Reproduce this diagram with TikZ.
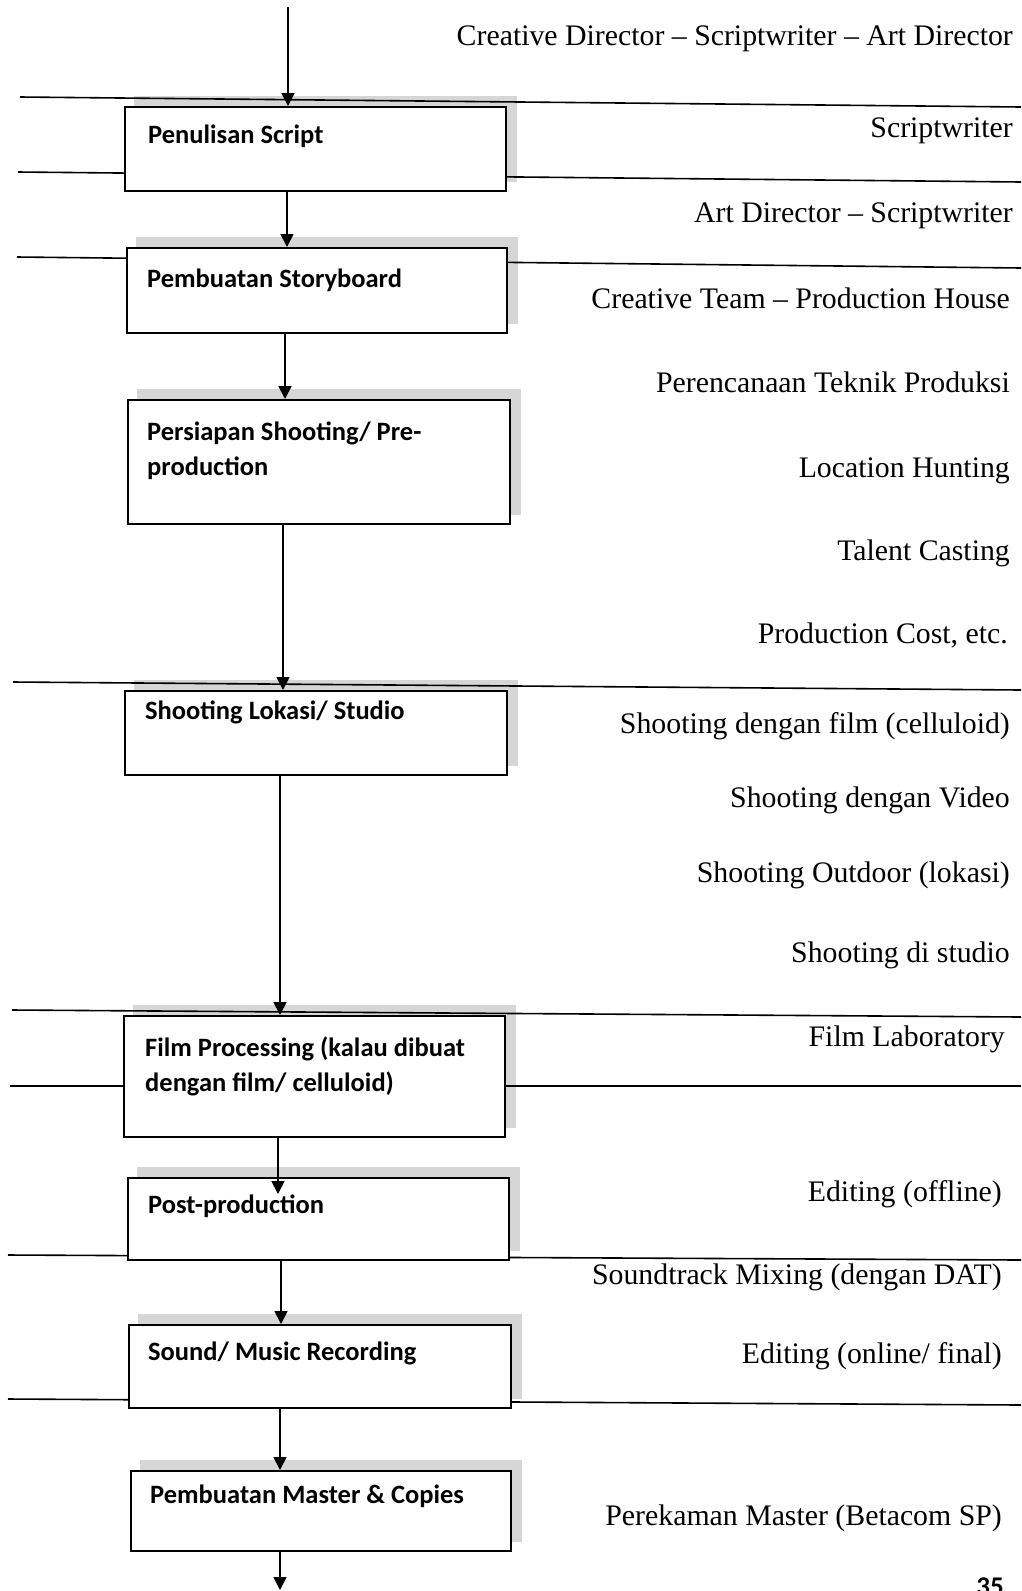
\documentclass[tikz,border=0pt]{standalone}
\usepackage{fontspec}
\setmainfont{Liberation Serif}
\newfontfamily\boxfont{Carlito}
\usetikzlibrary{arrows.meta,calc}
\pgfdeclarelayer{bg}
\pgfsetlayers{bg,main}
\begin{document}
\begin{tikzpicture}[x=1pt,y=-1pt,
  sepline/.style={line width=1.6pt},
  flow/.style={line width=1.8pt,-{Triangle[width=13pt,length=13pt]}},
  stage/.style={draw,line width=2.2pt,fill=white,rectangle,anchor=north west,inner sep=0pt},
  shade/.style={fill=black!16},
  stagetext/.style={anchor=base west,inner sep=0pt,font=\boxfont\bfseries\fontsize{26.5}{32}\selectfont},
  role/.style={anchor=base east,inner sep=0pt,font=\fontsize{29.8}{36}\selectfont}]
\useasboundingbox (0,0) rectangle (1021,1591);
% boxes
\node[stage,minimum width=381pt,minimum height=84pt] (b1) at (124,106) {};
\node[stage,minimum width=380pt,minimum height=85pt] (b2) at (126,247) {};
\node[stage,minimum width=382pt,minimum height=124pt] (b3) at (127,399) {};
\node[stage,minimum width=382pt,minimum height=84pt] (b4) at (124,690) {};
\node[stage,minimum width=381pt,minimum height=121pt] (b5) at (123,1015) {};
\node[stage,minimum width=381pt,minimum height=82pt] (b6) at (127,1177) {};
\node[stage,minimum width=382pt,minimum height=83pt] (b7) at (128,1324) {};
\node[stage,minimum width=380pt,minimum height=80pt] (b8) at (130,1470) {};
% shadows and separator lines behind
\begin{pgfonlayer}{bg}
\foreach \b in {b1,b2,b3,b4,b5,b6,b7,b8}{
  \fill[shade] ($(\b.south west)+(10,-10)$) rectangle ($(\b.north east)+(10,-10)$);
}
\draw[sepline] (20,97) -- (1021,107);
\draw[sepline] (18,172) -- (1021,182);
\draw[sepline] (17,257) -- (1021,268);
\draw[sepline] (13,682) -- (1021,690);
\draw[sepline] (12,1010) -- (1021,1017);
\draw[sepline] (10,1086) -- (1021,1086);
\draw[sepline] (8,1255) -- (1021,1260);
\draw[sepline] (8,1399) -- (1021,1405);
\end{pgfonlayer}
% box texts
\node[stagetext] (t1) at (148,143) {Penulisan Script};
\node[stagetext] (t2) at (147,287) {Pembuatan Storyboard};
\node[stagetext] (t3) at (147,440) {Persiapan Shooting/ Pre-};
\node[stagetext] (t3b) at (147,475) {production};
\node[stagetext] (t4) at (145,719) {Shooting Lokasi/ Studio};
\node[stagetext] (t5) at (145,1056) {Film Processing (kalau dibuat};
\node[stagetext] (t5b) at (145,1091) {dengan film/ celluloid)};
\node[stagetext] (t6) at (148,1213) {Post-production};
\node[stagetext] (t7) at (148,1360) {Sound/ Music Recording};
\node[stagetext] (t8) at (150,1503) {Pembuatan Master \& Copies};
% connectors
\coordinate (start) at (288,7);
\coordinate (s12) at (287,0);
\coordinate (s23) at (285,0);
\coordinate (s34) at (283,0);
\coordinate (s45) at (280,0);
\coordinate (a56) at (278,1194);
\coordinate (s67) at (281,0);
\coordinate (s78) at (280,0);
\coordinate (finish) at (280,1590);
\draw[flow] (start) -- (start |- b1.north);
\draw[flow] (b1.south -| s12) -- (b2.north -| s12);
\draw[flow] (b2.south -| s23) -- (b3.north -| s23);
\draw[flow] (b3.south -| s34) -- (b4.north -| s34);
\draw[flow] (b4.south -| s45) -- (b5.north -| s45);
\draw[flow] (b5.south -| a56) -- (a56);
\draw[flow] (b6.south -| s67) -- (b7.north -| s67);
\draw[flow] (b7.south -| s78) -- (b8.north -| s78);
\draw[flow] (b8.south -| finish) -- (finish);
% right-hand labels
\node[role] (r1) at (1013,45) {Creative Director -- Scriptwriter -- Art Director};
\node[role] (r2) at (1013,137) {Scriptwriter};
\node[role] (r3) at (1013,222) {Art Director -- Scriptwriter};
\node[role] (r4) at (1010,308) {Creative Team -- Production House};
\node[role] (r5) at (1010,392) {Perencanaan Teknik Produksi};
\node[role] (r6) at (1010,477) {Location Hunting};
\node[role] (r7) at (1010,560) {Talent Casting};
\node[role] (r8) at (1008,643) {Production Cost, etc.};
\node[role] (r9) at (1010,733) {Shooting dengan film (celluloid)};
\node[role] (r10) at (1010,807) {Shooting dengan Video};
\node[role] (r11) at (1010,882) {Shooting Outdoor (lokasi)};
\node[role] (r12) at (1010,962) {Shooting di studio};
\node[role] (r13) at (1005,1046) {Film Laboratory};
\node[role] (r14) at (1002,1201) {Editing (offline)};
\node[role] (r15) at (1002,1284) {Soundtrack Mixing (dengan DAT)};
\node[role] (r16) at (1002,1363) {Editing (online/ final)};
\node[role] (r17) at (1002,1525) {Perekaman Master (Betacom SP)};
\node[anchor=north east,inner sep=0pt,font=\boxfont\bfseries\fontsize{27}{32}\selectfont] (pg) at (1004,1578) {35};
\end{tikzpicture}
\end{document}
